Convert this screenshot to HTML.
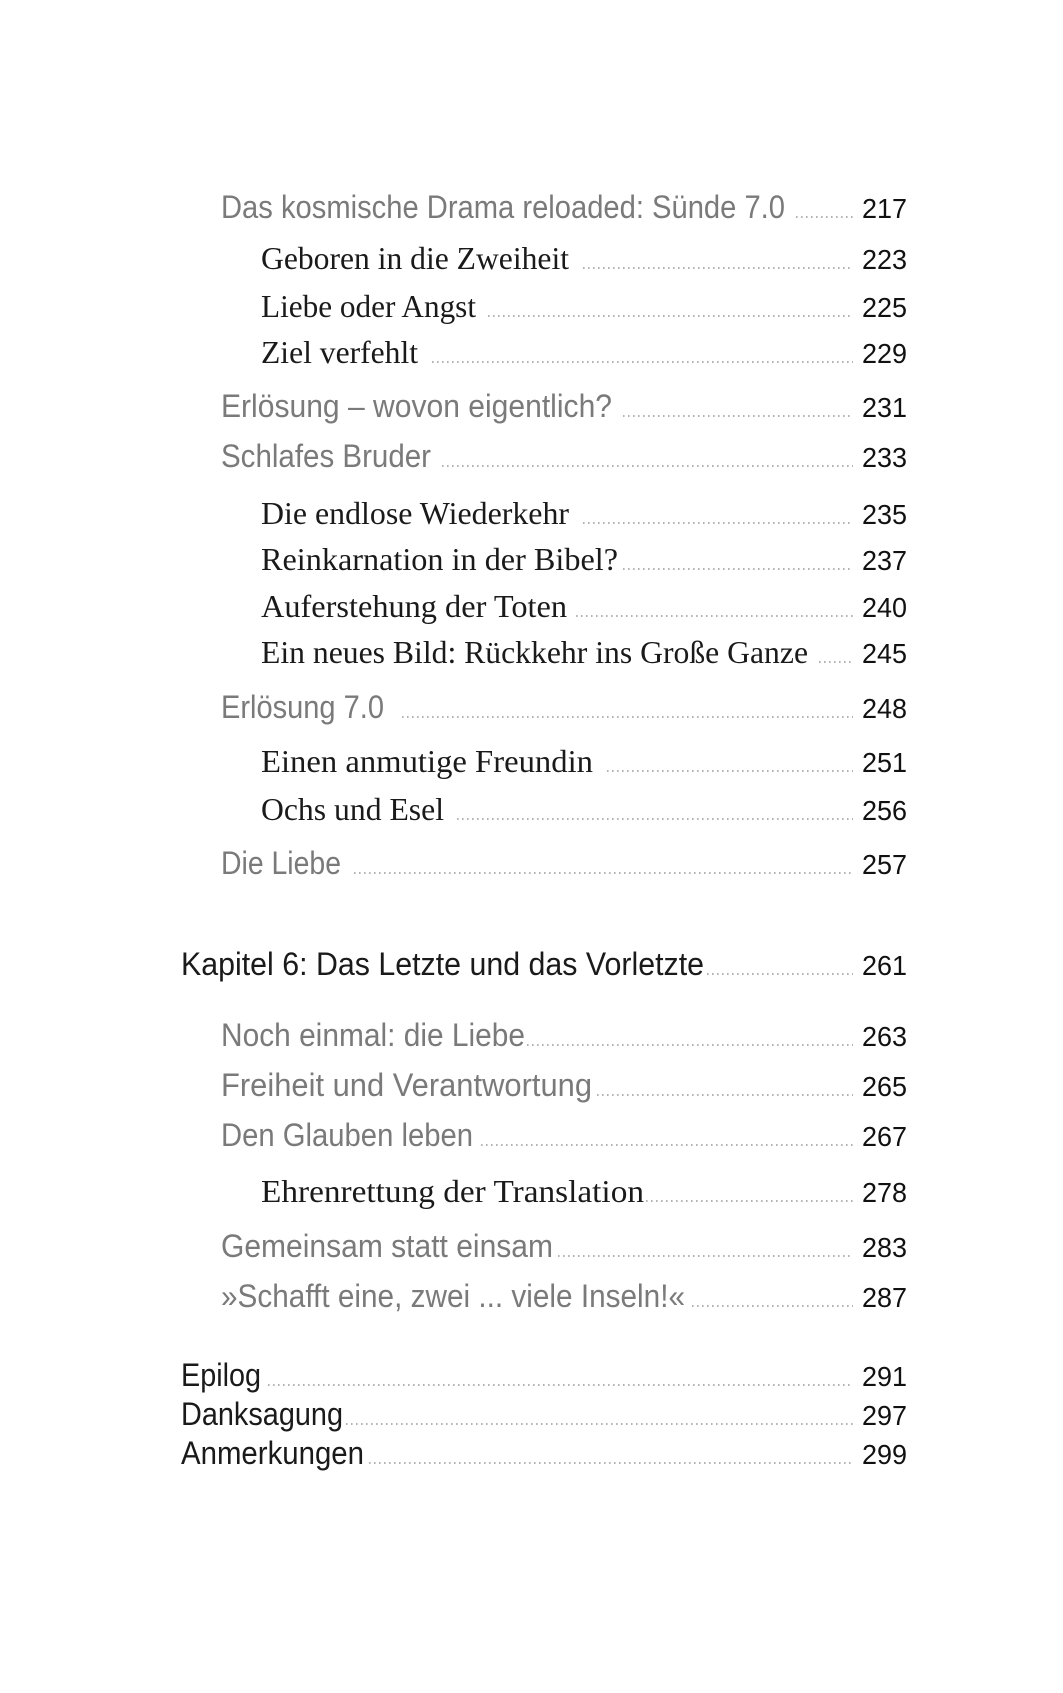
<!DOCTYPE html>
<html><head><meta charset="utf-8"><style>html,body{margin:0;padding:0;background:#fff}svg{display:block}
.s{font-family:"Liberation Sans",sans-serif;font-size:32px;fill:#7a7a7a}
.r{font-family:"Liberation Serif",serif;font-size:32px;fill:#1a1a1a}
.k{font-family:"Liberation Sans",sans-serif;font-size:32px;fill:#1a1a1a}
.n{font-family:"Liberation Sans",sans-serif;font-size:28px;fill:#111}
line{stroke:#9a9a9a;stroke-width:1.6;stroke-dasharray:1.6 3.4}
</style></head>
<body>
<svg width="1063" height="1693" xmlns="http://www.w3.org/2000/svg">
<text class="s" x="221" y="218" textLength="564" lengthAdjust="spacingAndGlyphs">Das kosmische Drama reloaded: Sünde 7.0</text>
<line x1="796" y1="217" x2="853" y2="217"/>
<text class="n" x="907" y="218" text-anchor="end" textLength="45" lengthAdjust="spacingAndGlyphs">217</text>

<text class="r" x="261" y="269" textLength="308" lengthAdjust="spacingAndGlyphs">Geboren in die Zweiheit</text>
<line x1="583" y1="268" x2="853" y2="268"/>
<text class="n" x="907" y="269" text-anchor="end" textLength="45" lengthAdjust="spacingAndGlyphs">223</text>

<text class="r" x="261" y="317" textLength="215" lengthAdjust="spacingAndGlyphs">Liebe oder Angst</text>
<line x1="488" y1="316" x2="853" y2="316"/>
<text class="n" x="907" y="317" text-anchor="end" textLength="45" lengthAdjust="spacingAndGlyphs">225</text>

<text class="r" x="261" y="363" textLength="157" lengthAdjust="spacingAndGlyphs">Ziel verfehlt</text>
<line x1="432" y1="362" x2="853" y2="362"/>
<text class="n" x="907" y="363" text-anchor="end" textLength="45" lengthAdjust="spacingAndGlyphs">229</text>

<text class="s" x="221" y="417" textLength="391" lengthAdjust="spacingAndGlyphs">Erlösung – wovon eigentlich?</text>
<line x1="623" y1="416" x2="853" y2="416"/>
<text class="n" x="907" y="417" text-anchor="end" textLength="45" lengthAdjust="spacingAndGlyphs">231</text>

<text class="s" x="221" y="467" textLength="210" lengthAdjust="spacingAndGlyphs">Schlafes Bruder</text>
<line x1="442" y1="466" x2="853" y2="466"/>
<text class="n" x="907" y="467" text-anchor="end" textLength="45" lengthAdjust="spacingAndGlyphs">233</text>

<text class="r" x="261" y="524" textLength="308" lengthAdjust="spacingAndGlyphs">Die endlose Wiederkehr</text>
<line x1="583" y1="523" x2="853" y2="523"/>
<text class="n" x="907" y="524" text-anchor="end" textLength="45" lengthAdjust="spacingAndGlyphs">235</text>

<text class="r" x="261" y="570" textLength="357" lengthAdjust="spacingAndGlyphs">Reinkarnation in der Bibel?</text>
<line x1="623" y1="569" x2="853" y2="569"/>
<text class="n" x="907" y="570" text-anchor="end" textLength="45" lengthAdjust="spacingAndGlyphs">237</text>

<text class="r" x="261" y="617" textLength="306" lengthAdjust="spacingAndGlyphs">Auferstehung der Toten</text>
<line x1="576" y1="616" x2="853" y2="616"/>
<text class="n" x="907" y="617" text-anchor="end" textLength="45" lengthAdjust="spacingAndGlyphs">240</text>

<text class="r" x="261" y="663" textLength="547" lengthAdjust="spacingAndGlyphs">Ein neues Bild: Rückkehr ins Große Ganze</text>
<line x1="819" y1="662" x2="853" y2="662"/>
<text class="n" x="907" y="663" text-anchor="end" textLength="45" lengthAdjust="spacingAndGlyphs">245</text>

<text class="s" x="221" y="718" textLength="163" lengthAdjust="spacingAndGlyphs">Erlösung 7.0</text>
<line x1="402" y1="717" x2="853" y2="717"/>
<text class="n" x="907" y="718" text-anchor="end" textLength="45" lengthAdjust="spacingAndGlyphs">248</text>

<text class="r" x="261" y="772" textLength="332" lengthAdjust="spacingAndGlyphs">Einen anmutige Freundin</text>
<line x1="607" y1="771" x2="853" y2="771"/>
<text class="n" x="907" y="772" text-anchor="end" textLength="45" lengthAdjust="spacingAndGlyphs">251</text>

<text class="r" x="261" y="820" textLength="183" lengthAdjust="spacingAndGlyphs">Ochs und Esel</text>
<line x1="457" y1="819" x2="853" y2="819"/>
<text class="n" x="907" y="820" text-anchor="end" textLength="45" lengthAdjust="spacingAndGlyphs">256</text>

<text class="s" x="221" y="874" textLength="120" lengthAdjust="spacingAndGlyphs">Die Liebe</text>
<line x1="354" y1="873" x2="853" y2="873"/>
<text class="n" x="907" y="874" text-anchor="end" textLength="45" lengthAdjust="spacingAndGlyphs">257</text>

<text class="k" x="181" y="975" textLength="523" lengthAdjust="spacingAndGlyphs">Kapitel 6: Das Letzte und das Vorletzte</text>
<line x1="707" y1="974" x2="853" y2="974"/>
<text class="n" x="907" y="975" text-anchor="end" textLength="45" lengthAdjust="spacingAndGlyphs">261</text>

<text class="s" x="221" y="1046" textLength="304" lengthAdjust="spacingAndGlyphs">Noch einmal: die Liebe</text>
<line x1="527" y1="1045" x2="853" y2="1045"/>
<text class="n" x="907" y="1046" text-anchor="end" textLength="45" lengthAdjust="spacingAndGlyphs">263</text>

<text class="s" x="221" y="1096" textLength="371" lengthAdjust="spacingAndGlyphs">Freiheit und Verantwortung</text>
<line x1="597" y1="1095" x2="853" y2="1095"/>
<text class="n" x="907" y="1096" text-anchor="end" textLength="45" lengthAdjust="spacingAndGlyphs">265</text>

<text class="s" x="221" y="1146" textLength="252" lengthAdjust="spacingAndGlyphs">Den Glauben leben</text>
<line x1="481" y1="1145" x2="853" y2="1145"/>
<text class="n" x="907" y="1146" text-anchor="end" textLength="45" lengthAdjust="spacingAndGlyphs">267</text>

<text class="r" x="261" y="1202" textLength="383" lengthAdjust="spacingAndGlyphs">Ehrenrettung der Translation</text>
<line x1="646" y1="1201" x2="853" y2="1201"/>
<text class="n" x="907" y="1202" text-anchor="end" textLength="45" lengthAdjust="spacingAndGlyphs">278</text>

<text class="s" x="221" y="1257" textLength="332" lengthAdjust="spacingAndGlyphs">Gemeinsam statt einsam</text>
<line x1="558" y1="1256" x2="853" y2="1256"/>
<text class="n" x="907" y="1257" text-anchor="end" textLength="45" lengthAdjust="spacingAndGlyphs">283</text>

<text class="s" x="221" y="1307" textLength="464" lengthAdjust="spacingAndGlyphs">»Schafft eine, zwei ... viele Inseln!«</text>
<line x1="692" y1="1306" x2="853" y2="1306"/>
<text class="n" x="907" y="1307" text-anchor="end" textLength="45" lengthAdjust="spacingAndGlyphs">287</text>

<text class="k" x="181" y="1386" textLength="80" lengthAdjust="spacingAndGlyphs">Epilog</text>
<line x1="268" y1="1385" x2="853" y2="1385"/>
<text class="n" x="907" y="1386" text-anchor="end" textLength="45" lengthAdjust="spacingAndGlyphs">291</text>

<text class="k" x="181" y="1425" textLength="162" lengthAdjust="spacingAndGlyphs">Danksagung</text>
<line x1="346" y1="1424" x2="853" y2="1424"/>
<text class="n" x="907" y="1425" text-anchor="end" textLength="45" lengthAdjust="spacingAndGlyphs">297</text>

<text class="k" x="181" y="1464" textLength="183" lengthAdjust="spacingAndGlyphs">Anmerkungen</text>
<line x1="369" y1="1463" x2="853" y2="1463"/>
<text class="n" x="907" y="1464" text-anchor="end" textLength="45" lengthAdjust="spacingAndGlyphs">299</text>
</svg>
</body></html>
